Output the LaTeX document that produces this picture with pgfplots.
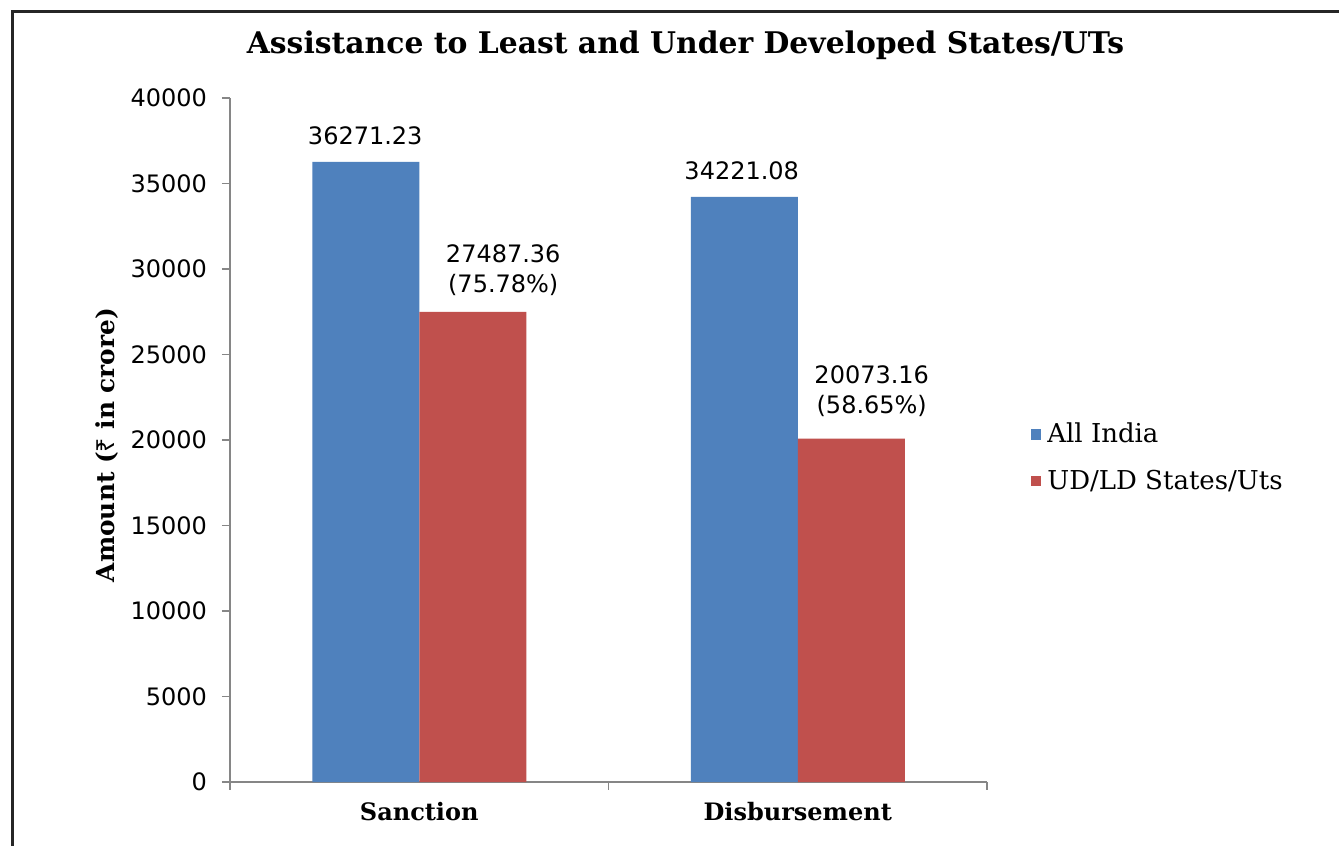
\documentclass[border=0pt]{standalone}
\usepackage{pgfplots}
\pgfplotsset{compat=1.18}
\usepackage{fontspec}
\setmainfont{DejaVu Serif}
\newfontfamily\numfont{DejaVu Sans}
\newfontfamily\rupeefont{Noto Sans}
\definecolor{barblue}{HTML}{4F81BD}
\definecolor{barred}{HTML}{C0504D}
\definecolor{axisgray}{HTML}{868686}
\begin{document}
\begin{tikzpicture}
% page = 1339x846 px at 0.5pt per px
\path[use as bounding box] (0,0) rectangle (669.5pt,423pt);
\fill[white] (0,0) rectangle (669.5pt,423pt);
\draw[line width=1.5pt, black!85] (6.25pt,-5pt) -- (6.25pt,417.35pt) -- (680pt,417.35pt);
\node[font=\fontsize{14.9}{17}\selectfont\bfseries, anchor=base, inner sep=0pt]
  at (342.75pt,396pt) {Assistance to Least and Under Developed States/UTs};
\node[rotate=90, font=\fontsize{12.4}{14}\selectfont\bfseries, inner sep=0pt]
  at (53.5pt,200.5pt) {Amount ({\rupeefont\bfseries ₹} in crore)};
\begin{axis}[
  at={(115pt,32pt)}, anchor=south west,
  width=378.5pt, height=342pt, scale only axis,
  ybar=0pt, bar width=53.5pt,
  xmin=-0.5, xmax=1.5, ymin=0, ymax=40000,
  clip=false,
  axis lines=left,
  axis line style={-, draw=axisgray, line width=0.8pt},
  tick align=outside,
  tick style={draw=axisgray, line width=0.8pt},
  major tick length=4pt, minor tick length=4pt,
  ytick={0,5000,...,40000},
  scaled y ticks=false,
  /pgf/number format/1000 sep={},
  /pgf/number format/assume math mode=true,
  yticklabel style={font=\numfont\fontsize{12}{14}\selectfont, black, xshift=-4pt},
  xtick={0,1},
  xticklabels={Sanction,Disbursement},
  minor xtick={-0.5,0.5,1.5},
  major x tick style={draw=none},
  xticklabel style={font=\fontsize{12}{14}\selectfont\bfseries, black, yshift=-2.5pt},
  legend style={at={(axis description cs:1.057,0.4744)}, anchor=west,
    draw=none, fill=none, font=\fontsize{13}{15}\selectfont,
    row sep=8pt, inner sep=0pt},
  legend cell align=left,
  legend image code/.code={\fill[#1] (0pt,-2.6pt) rectangle (5.2pt,2.6pt);},
  /tikz/every odd column/.append style={column sep=1.2pt},
]
\addplot[fill=barblue, draw=none] coordinates {(0,36271.23) (1,34221.08)};
\addlegendentry{All India}
\addplot[fill=barred, draw=none] coordinates {(0,27487.36) (1,20073.16)};
\addlegendentry{UD/LD States/Uts}
\begin{scope}[every node/.style={font=\numfont\fontsize{12}{15}\selectfont, inner sep=0pt, anchor=south, align=center}]
\node[yshift=8.5pt] at ([xshift=-27pt]axis cs:0,36271.23) {36271.23};
\node[yshift=8.5pt] at ([xshift=-28pt]axis cs:1,34221.08) {34221.08};
\node[yshift=8pt] at ([xshift=42pt]axis cs:0,27487.36) {27487.36\\(75.78\%)};
\node[yshift=11pt] at ([xshift=37pt]axis cs:1,20073.16) {20073.16\\(58.65\%)};
\end{scope}
\end{axis}
\end{tikzpicture}
\end{document}
